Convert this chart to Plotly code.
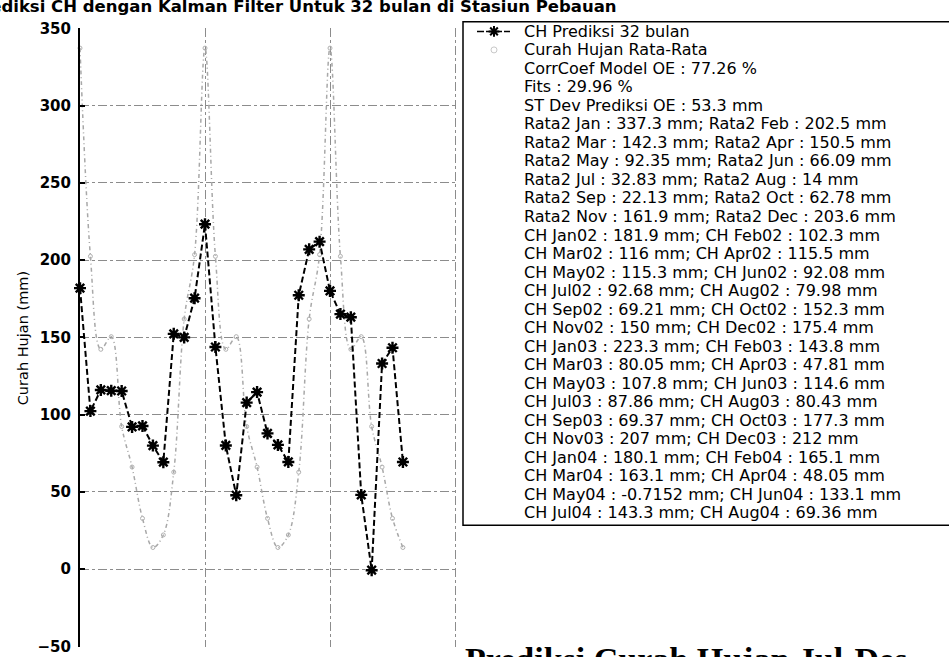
import plotly.graph_objects as go

W, H = 949, 657

# ---- data -------------------------------------------------------------
month_names = ["Jan", "Feb", "Mar", "Apr", "May", "Jun",
               "Jul", "Aug", "Sep", "Oct", "Nov", "Dec"]
year_codes = ["02", "03", "04"]

# Kalman-filter rainfall prediction, Jan 2002 - Aug 2004 (mm)
ch_prediksi = [181.9, 102.3, 116, 115.5, 115.3, 92.08, 92.68, 79.98,
               69.21, 152.3, 150, 175.4, 223.3, 143.8, 80.05, 47.81,
               107.8, 114.6, 87.86, 80.43, 69.37, 177.3, 207, 212,
               180.1, 165.1, 163.1, 48.05, -0.7152, 133.1, 143.3, 69.36]

# long-term monthly mean rainfall, Jan..Dec (mm)
rata2_bulanan = [337.3, 202.5, 142.3, 150.5, 92.35, 66.09,
                 32.83, 14, 22.13, 62.78, 161.9, 203.6]

corrcoef_oe = 77.26   # %
fits_oe = 29.96       # %
stdev_oe = 53.3       # mm

y_ticks = [-50, 0, 50, 100, 150, 200, 250, 300, 350]
x_grid = [0, 12, 24, 36]

# ---- derived series -----------------------------------------------------
bulan_ke = list(range(len(ch_prediksi)))
rata2_series = [rata2_bulanan[i % 12] for i in bulan_ke]
periode = [f"{month_names[i % 12]}{year_codes[i // 12]}" for i in bulan_ke]


def fmt(v):
    return f"{v:.4g}"


legend_lines = [
    "CH Prediksi 32 bulan",
    "Curah Hujan Rata-Rata",
    f"CorrCoef Model OE : {fmt(corrcoef_oe)} %",
    f"Fits : {fmt(fits_oe)} %",
    f"ST Dev Prediksi OE : {fmt(stdev_oe)} mm",
]
for k in range(0, 12, 2):
    legend_lines.append(
        f"Rata2 {month_names[k]} : {fmt(rata2_bulanan[k])} mm; "
        f"Rata2 {month_names[k + 1]} : {fmt(rata2_bulanan[k + 1])} mm")
for k in range(0, len(ch_prediksi), 2):
    legend_lines.append(
        f"CH {periode[k]} : {fmt(ch_prediksi[k])} mm; "
        f"CH {periode[k + 1]} : {fmt(ch_prediksi[k + 1])} mm")

# ---- axes geometry (page pixels) ---------------------------------------
x_left_px, px_per_month = 80, 375 / 36
y_zero_px, px_per_mm = 575, 555 / 350
x_range = [0, 36.1]
y_range = [-50.5, 350]
x_dom = [(x_left_px + px_per_month * x_range[0]) / W,
         (x_left_px + px_per_month * x_range[1]) / W]
y_dom = [(H - (y_zero_px - px_per_mm * y_range[0])) / H,
         (H - (y_zero_px - px_per_mm * y_range[1])) / H]

# ---- figure -----------------------------------------------------------
fig = go.Figure()

grid_style = dict(showgrid=True, gridcolor="#8c8c8c", gridwidth=1,
                  griddash="dashdot", zeroline=False)

# monthly average (smooth light curve)
fig.add_trace(go.Scatter(
    x=bulan_ke, y=rata2_series, mode="lines+markers",
    line=dict(color="#a8a8a8", width=1.5, dash="4px,3px,1px,3px",
              shape="spline", smoothing=1.0),
    marker=dict(symbol="circle-open", size=4, color="#b0b0b0",
                line=dict(width=1, color="#b0b0b0")),
    cliponaxis=False, showlegend=False, xaxis="x", yaxis="y"))

# prediction
fig.add_trace(go.Scatter(
    x=bulan_ke, y=ch_prediksi, mode="lines+markers",
    line=dict(color="black", width=2, dash="6px,3px"),
    marker=dict(symbol="asterisk-open", size=10, color="black",
                line=dict(width=2.4, color="black")),
    cliponaxis=False, showlegend=False, xaxis="x", yaxis="y"))

# legend samples, drawn in page-pixel axes (x2/y2)
fig.add_trace(go.Scatter(
    x=[477, 510], y=[23, 23], mode="lines",
    line=dict(color="black", width=1.5, dash="7px,2px"),
    showlegend=False, xaxis="x2", yaxis="y2", hoverinfo="skip"))
fig.add_trace(go.Scatter(
    x=[494], y=[23], mode="markers",
    marker=dict(symbol="asterisk-open", size=9, color="black",
                line=dict(width=2, color="black")),
    showlegend=False, xaxis="x2", yaxis="y2", hoverinfo="skip"))
fig.add_trace(go.Scatter(
    x=[494], y=[42], mode="markers",
    marker=dict(symbol="circle-open", size=6, color="#c8c8c8",
                line=dict(width=1, color="#c8c8c8")),
    showlegend=False, xaxis="x2", yaxis="y2", hoverinfo="skip"))

annotations = []
line_gap = 19.0
for i, txt in enumerate(legend_lines):
    annotations.append(dict(
        x=522, y=23 + i * line_gap, xref="x2", yref="y2",
        text=txt, showarrow=False, xanchor="left", yanchor="middle",
        font=dict(family="DejaVu Sans", size=16, color="black")))

# y-axis title
annotations.append(dict(
    x=23, y=338, xref="x2", yref="y2", text="Curah Hujan (mm)",
    textangle=-90, showarrow=False, xanchor="center", yanchor="middle",
    font=dict(family="DejaVu Sans", size=14.5, color="black")))

# chart title (runs off the top and left edges)
annotations.append(dict(
    x=-32 / W, y=1 - 9 / H, xref="paper", yref="paper",
    text="Prediksi CH dengan Kalman Filter Untuk 32 bulan di Stasiun Pebauan",
    showarrow=False, xanchor="left", yanchor="bottom",
    font=dict(family="DejaVu Sans", size=16.5, color="black", weight="bold")))

# caption (runs off the bottom edge)
annotations.append(dict(
    x=463, y=647, xref="x2", yref="y2",
    text="Prediksi Curah Hujan Jul-Des",
    showarrow=False, xanchor="left", yanchor="top",
    font=dict(family="Liberation Serif", size=34, color="black", weight="bold")))

shapes = [dict(type="rect", xref="x2", yref="y2", x0=463, x1=955, y0=13, y1=530,
               line=dict(color="black", width=1.5), fillcolor="rgba(0,0,0,0)",
               layer="above")]

fig.update_layout(
    width=W, height=H,
    margin=dict(l=0, r=0, t=0, b=0),
    paper_bgcolor="white", plot_bgcolor="rgba(0,0,0,0)",
    xaxis=dict(domain=x_dom, range=x_range, tickvals=x_grid,
               showticklabels=False, ticks="", showline=False,
               anchor="y", **grid_style),
    yaxis=dict(domain=y_dom, range=y_range,
               tickvals=y_ticks, ticks="inside", ticklen=5, tickwidth=1.5,
               tickcolor="black", showline=True, linecolor="black",
               linewidth=2, ticklabelstandoff=4, anchor="x",
               ticklabeloverflow="allow",
               tickfont=dict(family="DejaVu Sans", size=15, color="black",
                             weight="bold"),
               **grid_style),
    xaxis2=dict(domain=[0, 1], range=[0, W], visible=False, anchor="y2"),
    yaxis2=dict(domain=[0, 1], range=[H, 0], visible=False, anchor="x2"),
    annotations=annotations,
    shapes=shapes,
    showlegend=False,
)

fig.write_html("out.html")
